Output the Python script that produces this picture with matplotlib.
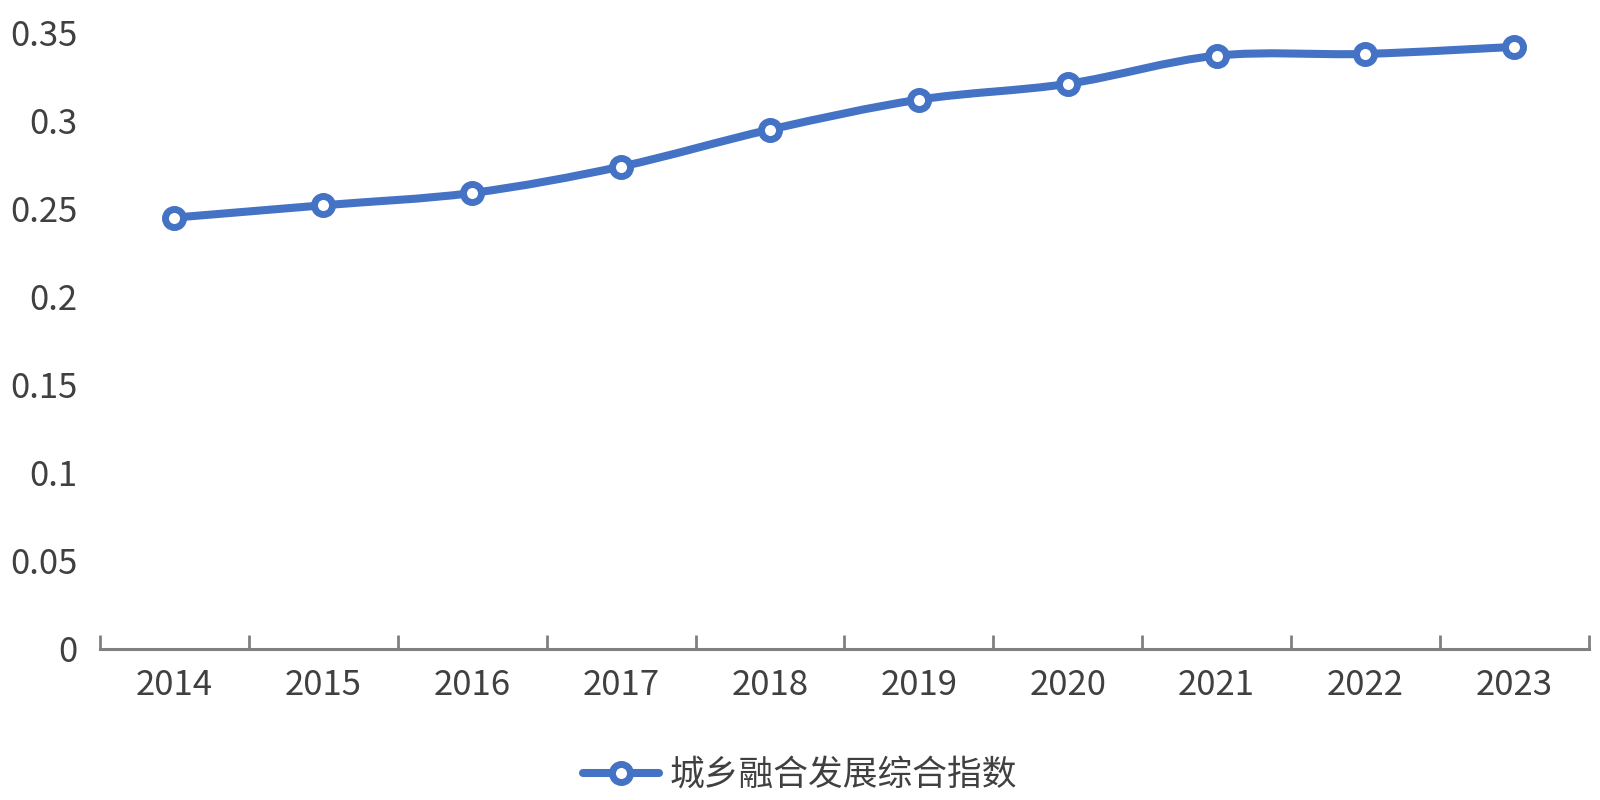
import matplotlib.pyplot as plt
from matplotlib.path import Path
from matplotlib.patches import PathPatch
from matplotlib.lines import Line2D
import numpy as np

plt.rcParams['font.family'] = ['Noto Sans CJK SC', 'DejaVu Sans']

years = ['2014', '2015', '2016', '2017', '2018', '2019', '2020', '2021', '2022', '2023']
index_values = [0.245, 0.252, 0.259, 0.274, 0.295, 0.312, 0.321, 0.337, 0.338, 0.342]
series_name = '城乡融合发展综合指数'
y_ticks = [0, 0.05, 0.1, 0.15, 0.2, 0.25, 0.3, 0.35]
y_labels = ['0', '0.05', '0.1', '0.15', '0.2', '0.25', '0.3', '0.35']

blue = '#4472C4'
text_color = '#404040'
axis_gray = '#808080'


def smooth_path(xs, ys, tension=1 / 6):
    # Catmull-Rom style bezier, similar to a spreadsheet "smoothed line"
    pts = np.column_stack([xs, ys])
    verts = [pts[0]]
    codes = [Path.MOVETO]
    n = len(pts)
    for i in range(n - 1):
        p0 = pts[i - 1] if i > 0 else pts[i]
        p1 = pts[i]
        p2 = pts[i + 1]
        p3 = pts[i + 2] if i + 2 < n else pts[i + 1]
        c1 = p1 + (p2 - p0) * tension
        c2 = p2 - (p3 - p1) * tension
        verts += [c1, c2, p2]
        codes += [Path.CURVE4] * 3
    return Path(verts, codes)


fig = plt.figure(figsize=(16, 8), dpi=100)
ax = fig.add_axes([0.0625, 0.189, 0.9305, 0.77])

x = np.arange(len(years))
ax.add_patch(PathPatch(smooth_path(x, index_values), fill=False, edgecolor=blue,
                       linewidth=5.8, capstyle='round', zorder=2))
ax.plot(x, index_values, linestyle='none', marker='o', markersize=13,
        markerfacecolor='white', markeredgecolor=blue, markeredgewidth=5, zorder=3,
        clip_on=False)

ax.set_xlim(-0.5, len(years) - 0.5)
ax.set_ylim(0, 0.35)

ax.set_xticks(x)
ax.set_xticklabels(years, fontsize=25, color=text_color)
ax.set_xticks(np.arange(-0.5, len(years)), minor=True)
ax.tick_params(axis='x', which='major', length=0, pad=14)
ax.tick_params(axis='x', which='minor', direction='in', length=10, width=2, color=axis_gray)

ax.set_yticks(y_ticks)
ax.set_yticklabels(y_labels, fontsize=25, color=text_color)
ax.tick_params(axis='y', length=0, pad=16)

for side in ['top', 'right', 'left']:
    ax.spines[side].set_visible(False)
ax.spines['bottom'].set_color(axis_gray)
ax.spines['bottom'].set_linewidth(2.2)

handle = Line2D([], [], color=blue, linewidth=5.8, marker='o', markersize=13,
                markerfacecolor='white', markeredgecolor=blue, markeredgewidth=5,
                solid_capstyle='round')
fig.legend([handle], [series_name], loc='center', bbox_to_anchor=(0.5, 0.031),
           frameon=False, fontsize=25, labelcolor=text_color, handlelength=2.2,
           handletextpad=0.3)

fig.savefig('out.png', dpi=100)
